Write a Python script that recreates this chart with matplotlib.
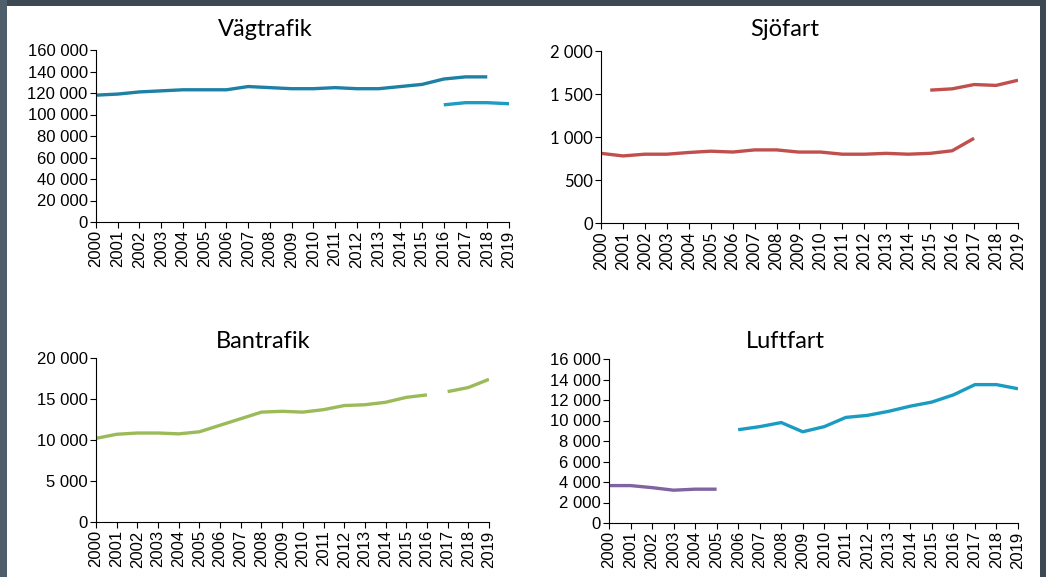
import matplotlib
matplotlib.use("Agg")
import matplotlib.pyplot as plt
from matplotlib.patches import Rectangle
from matplotlib.ticker import FuncFormatter, MultipleLocator

years = list(range(2000, 2020))

# Vägtrafik
vag_a_years = list(range(2000, 2019))
vag_a = [118000, 119000, 121000, 122000, 123000, 123000, 123000, 126000, 125000, 124000,
         124000, 125000, 124000, 124000, 126000, 128000, 133000, 135000, 135000]
vag_b_years = [2016, 2017, 2018, 2019]
vag_b = [109000, 111000, 111000, 110000]

# Sjöfart
sjo_a_years = list(range(2000, 2018))
sjo_a = [810, 780, 800, 800, 820, 835, 825, 850, 850, 825, 825, 800, 800, 810, 800, 810, 840, 985]
sjo_b_years = [2015, 2016, 2017, 2018, 2019]
sjo_b = [1545, 1560, 1610, 1600, 1660]

# Bantrafik
ban_a_years = list(range(2000, 2017))
ban_a = [10200, 10700, 10850, 10850, 10750, 11000, 11800, 12600, 13400, 13500,
         13400, 13700, 14200, 14300, 14600, 15200, 15500]
ban_b_years = [2017, 2018, 2019]
ban_b = [15900, 16400, 17400]

# Luftfart
luft_a_years = list(range(2000, 2006))
luft_a = [3650, 3650, 3450, 3200, 3300, 3300]
luft_b_years = list(range(2006, 2020))
luft_b = [9100, 9400, 9800, 8900, 9400, 10300, 10500, 10900, 11400, 11800,
          12500, 13500, 13500, 13100]

W, H = 1046, 577
fig = plt.figure(figsize=(W / 100, H / 100), dpi=100, facecolor="#3c4852")
fig.patches.append(Rectangle((0, 0), 7 / W, 1, transform=fig.transFigure,
                             facecolor="#4e5e6a", edgecolor="none", zorder=-3))
fig.patches.append(Rectangle((7 / W, 0), (1040 - 7) / W, 1 - 6 / H, transform=fig.transFigure,
                             facecolor="white", edgecolor="none", zorder=-2))

fmt = FuncFormatter(lambda v, p: f"{int(v):,}".replace(",", " "))


def make_ax(left, right, top, bottom, ymax, step, tickfont, fsize):
    ax = fig.add_axes([left / W, 1 - bottom / H, (right - left) / W, (bottom - top) / H])
    ax.set_facecolor("none")
    ax.set_xlim(2000, 2019)
    ax.set_ylim(0, ymax)
    ax.yaxis.set_major_locator(MultipleLocator(step))
    ax.yaxis.set_major_formatter(fmt)
    ax.set_xticks(years)
    ax.set_xticklabels([str(y) for y in years], rotation=90, family=tickfont, fontsize=fsize)
    for lab in ax.get_yticklabels():
        lab.set_family(tickfont)
        lab.set_fontsize(fsize)
    ax.tick_params(direction="out", length=4, width=0.8, colors="black", pad=2)
    for s in ["top", "right"]:
        ax.spines[s].set_visible(False)
    for s in ["left", "bottom"]:
        ax.spines[s].set_linewidth(0.8)
    ax.margins(x=0)
    return ax


lw = 2.4
ax1 = make_ax(96, 509, 50, 222, 160000, 20000, "Liberation Sans", 12)
ax1.plot(vag_a_years, vag_a, color="#1f80a6", lw=lw, solid_capstyle="butt")
ax1.plot(vag_b_years, vag_b, color="#1e9cc4", lw=lw, solid_capstyle="butt")

ax2 = make_ax(601, 1018, 51, 223, 2000, 500, "Lato", 12)
ax2.plot(sjo_a_years, sjo_a, color="#c0504d", lw=lw, solid_capstyle="butt")
ax2.plot(sjo_b_years, sjo_b, color="#c0504d", lw=lw, solid_capstyle="butt")

ax3 = make_ax(96, 489, 358, 522, 20000, 5000, "Liberation Sans", 12)
ax3.plot(ban_a_years, ban_a, color="#9bbb59", lw=lw, solid_capstyle="butt")
ax3.plot(ban_b_years, ban_b, color="#9bbb59", lw=lw, solid_capstyle="butt")

ax4 = make_ax(609, 1018, 359, 523, 16000, 2000, "Liberation Sans", 12)
ax4.plot(luft_a_years, luft_a, color="#8064a2", lw=lw, solid_capstyle="butt")
ax4.plot(luft_b_years, luft_b, color="#1a9cc2", lw=lw, solid_capstyle="butt")

for txt, x, y in [("Vägtrafik", 265, 30), ("Sjöfart", 785, 30),
                  ("Bantrafik", 263, 342), ("Luftfart", 785, 342)]:
    fig.text(x / W, 1 - y / H, txt, ha="center", va="center", family="Lato",
             fontsize=17, color="black")

fig.savefig("out.png", dpi=100, facecolor=fig.get_facecolor())
